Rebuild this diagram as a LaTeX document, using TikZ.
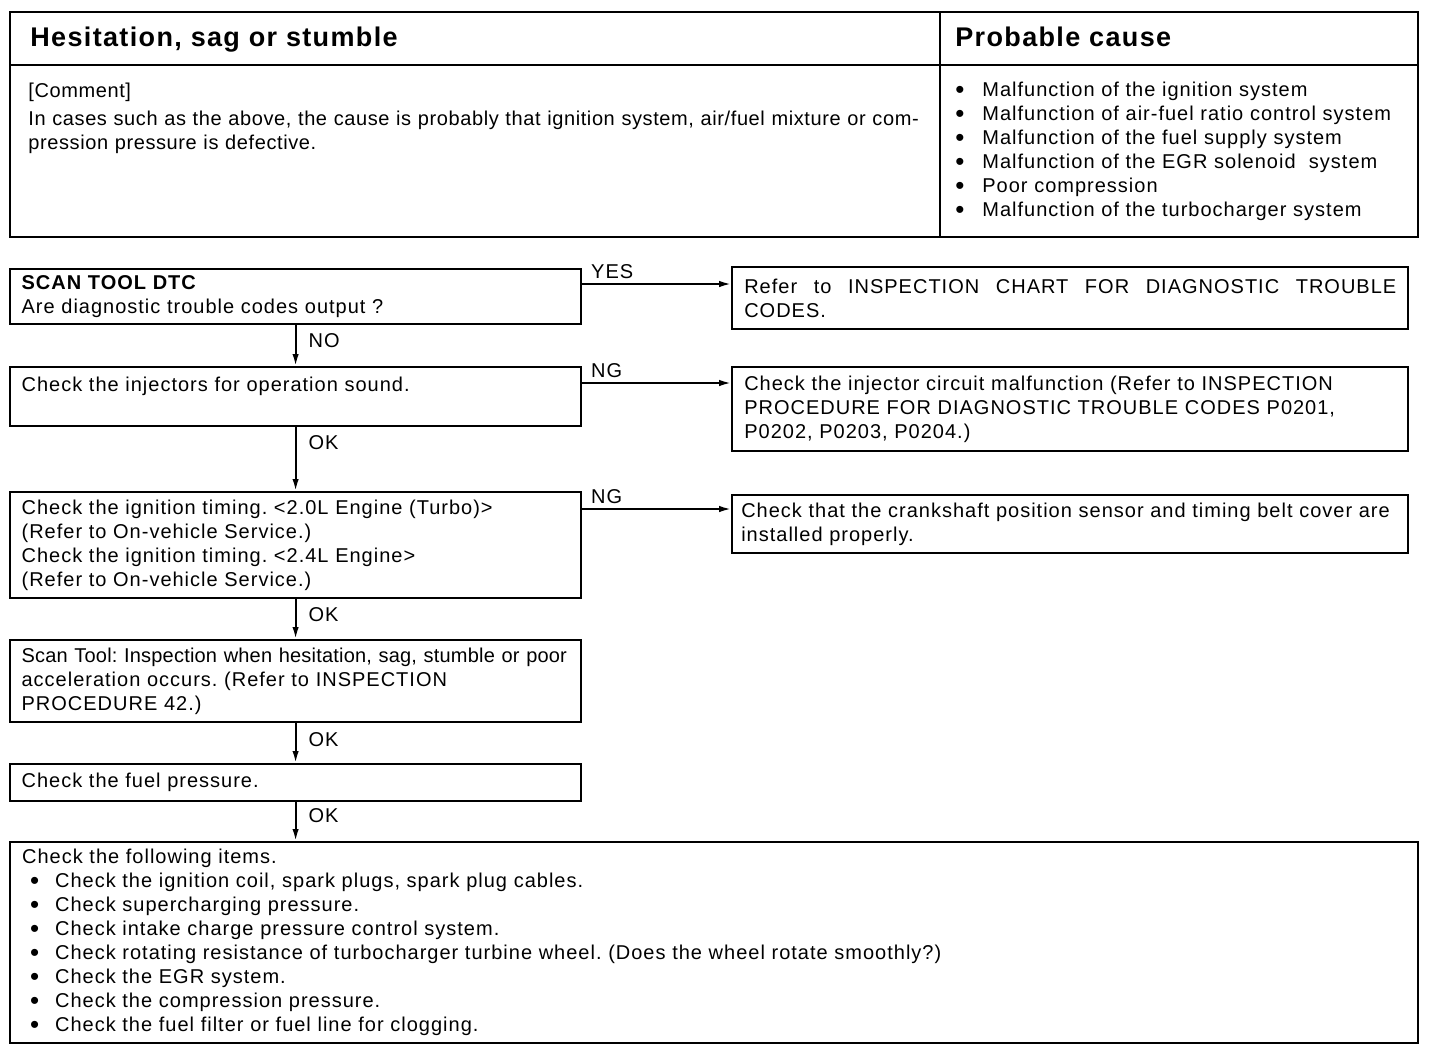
\documentclass[tikz,border=0pt]{standalone}
\usepackage{fontspec}
\setmainfont{Liberation Sans}[LetterSpace=5]
\newfontfamily\tightfont{Liberation Sans}[LetterSpace=1]
\newfontfamily\cmtfont{Liberation Sans}[LetterSpace=3]
\usetikzlibrary{positioning,arrows.meta}
\newcommand{\pcdot}{\makebox[13.5pt][l]{\raisebox{-0.15ex}{\scalebox{1.3}{•}}}}
\newcommand{\chkdot}{\hspace*{4pt}\makebox[12.5pt][l]{\raisebox{-0.15ex}{\scalebox{1.3}{•}}}}

\begin{document}
\frenchspacing
\begin{tikzpicture}[x=0.5pt,y=-0.5pt,font=\fontsize{10}{12}\selectfont,>={Latex[length=6pt,width=3.2pt]},
  box/.style={draw,line width=1.1pt,minimum width=285.5pt,text width=274pt,inner xsep=5.75pt,inner ysep=2pt,align=left},
  rbox/.style={draw,line width=1.1pt,minimum width=338pt,text width=326pt,inner xsep=6pt,inner ysep=2pt,align=left,anchor=north west},
  lbl/.style={inner sep=2pt},
  flow/.style={->,line width=1pt}]
  \useasboundingbox (0,0) rectangle (1440,1050);
  \draw[line width=1.1pt] (10,12) rectangle (1418,237);
  \draw[line width=1.1pt] (10,65) -- (1418,65) (940,12) -- (940,237);
  \node[anchor=base west,inner sep=0,font=\fontsize{13.5}{15}\selectfont\bfseries] (ttl) at (30,46) {Hesitation, sag or stumble};
  \node[anchor=base west,inner sep=0,font=\fontsize{13.5}{15}\selectfont\bfseries] (pcause) at (955,46) {Probable cause};
  \node[anchor=north west,inner sep=0,text width=450pt,align=left,font=\fontsize{10}{12}\cmtfont] (cmt) at (28,83)
    {[Comment]\\[2pt] In cases such as the above, the cause is probably that ignition system, air/fuel mixture or com-\\pression pressure is defective.};
  \node[anchor=north west,inner sep=0,text width=235pt,align=left] (plist) at (955,82)
    {\pcdot Malfunction of the ignition system\\ \pcdot Malfunction of air-fuel ratio control system\\
     \pcdot Malfunction of the fuel supply system\\ \pcdot Malfunction of the EGR solenoid\ \ system\\
     \pcdot Poor compression\\ \pcdot Malfunction of the turbocharger system};

  \node[box,minimum height=27.5pt,anchor=north west] (dtc) at (9,268) {\textbf{SCAN TOOL DTC}\\ Are diagnostic trouble codes output ?};
  \node[box,minimum height=29.5pt,below=20.4pt of dtc] (inj) {Check the injectors for operation sound.\\ \mbox{}};
  \node[box,minimum height=53pt,below=31.9pt of inj] (ign) {Check the ignition timing. <2.0L Engine (Turbo)>\\ (Refer to On-vehicle Service.)\\
    Check the ignition timing. <2.4L Engine>\\ (Refer to On-vehicle Service.)};
  \node[box,minimum height=41pt,below=19.9pt of ign] (scan) {{\tightfont Scan Tool: Inspection when hesitation, sag, stumble or poor}\\
    acceleration occurs. (Refer to INSPECTION\\ PROCEDURE 42.)};
  \node[box,minimum height=18.5pt,below=19.9pt of scan] (fuel) {Check the fuel pressure.};
  \node[box,minimum height=100.5pt,minimum width=704pt,text width=692pt,below=19.4pt of fuel.south west,anchor=north west] (items)
    {Check the following items.\\ \chkdot Check the ignition coil, spark plugs, spark plug cables.\\
     \chkdot Check supercharging pressure.\\ \chkdot Check intake charge pressure control system.\\
     \chkdot Check rotating resistance of turbocharger turbine wheel. (Does the wheel rotate smoothly?)\\
     \chkdot Check the EGR system.\\ \chkdot Check the compression pressure.\\
     \chkdot Check the fuel filter or fuel line for clogging.};

  \node[rbox,minimum height=31pt,align=justify] (dtcref) at ([xshift=74.5pt,yshift=1pt]dtc.north east)
    {Refer to INSPECTION CHART FOR DIAGNOSTIC TROUBLE\linebreak CODES.};
  \node[rbox,minimum height=42pt] (injref) at ([xshift=74.5pt]inj.north east)
    {Check the injector circuit malfunction (Refer to INSPECTION\\ PROCEDURE FOR DIAGNOSTIC TROUBLE CODES P0201,\\ P0202, P0203, P0204.)};
  \node[rbox,minimum height=29pt,inner xsep=4.5pt,text width=329pt] (ignref) at ([xshift=74.5pt,yshift=-1.5pt]ign.north east)
    {Check that the crankshaft position sensor and timing belt cover are\\ installed properly.};

  \draw[flow] ([yshift=-8pt]dtc.north east) -- node[lbl,anchor=south west,pos=0,xshift=2pt] {YES} ([yshift=-8pt]dtc.north east -| dtcref.west);
  \draw[flow] ([yshift=-8.5pt]inj.north east) -- node[lbl,anchor=south west,pos=0,xshift=2pt] {NG} ([yshift=-8.5pt]inj.north east -| injref.west);
  \draw[flow] ([yshift=-9pt]ign.north east) -- node[lbl,anchor=south west,pos=0,xshift=2pt] {NG} ([yshift=-9pt]ign.north east -| ignref.west);
  \draw[flow] (dtc) -- node[lbl,anchor=west,pos=0.37,xshift=4pt] {NO} (inj);
  \draw[flow] (inj) -- node[lbl,anchor=west,pos=0.24,xshift=4pt] {OK} (ign);
  \draw[flow] (ign) -- node[lbl,anchor=west,pos=0.38,xshift=4pt] {OK} (scan);
  \draw[flow] (scan) -- node[lbl,anchor=west,pos=0.4,xshift=4pt] {OK} (fuel);
  \draw[flow] (fuel) -- node[lbl,anchor=west,pos=0.34,xshift=4pt] {OK} (fuel.south |- items.north);
\end{tikzpicture}
\end{document}
